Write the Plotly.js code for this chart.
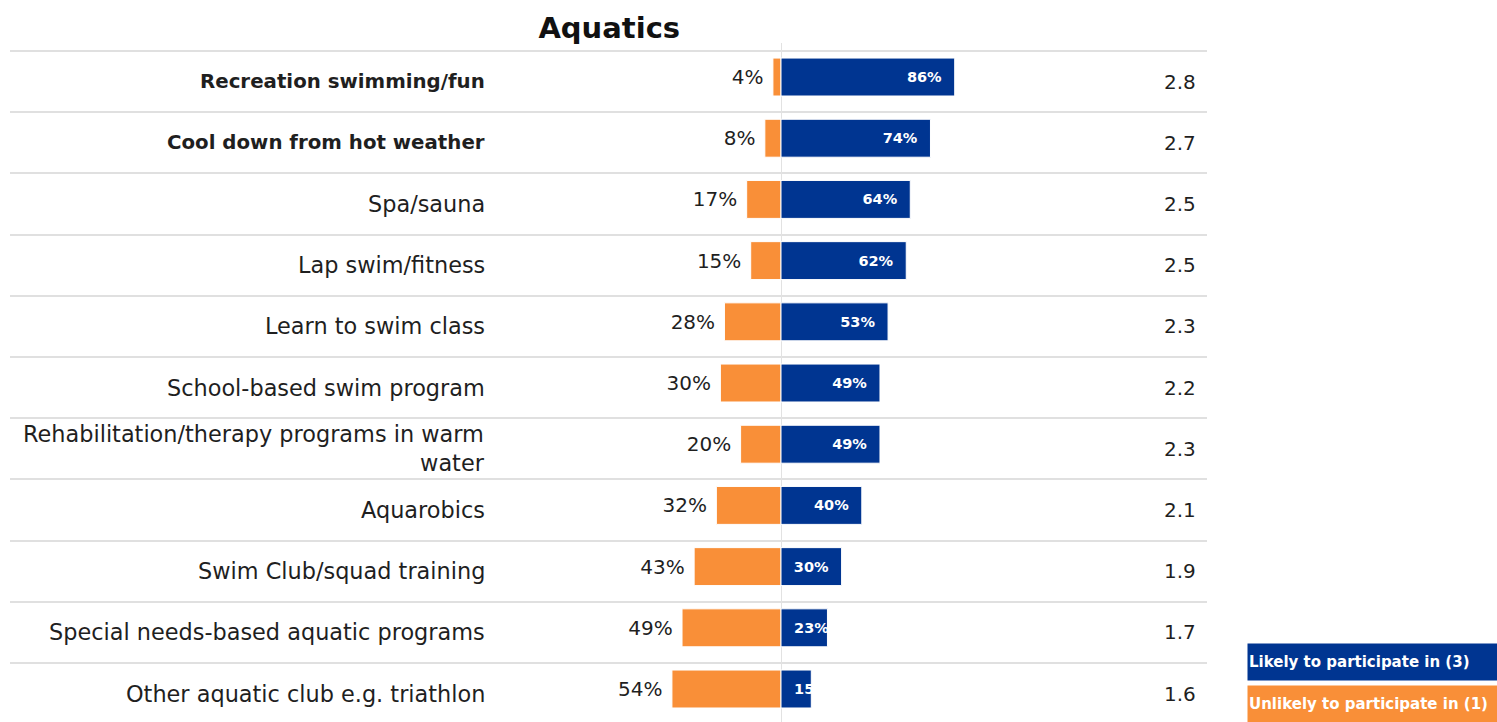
<!DOCTYPE html>
<html><head><meta charset="utf-8">
<script src="https://cdn.plot.ly/plotly-3.0.1.min.js"></script>
<style>html,body{margin:0;padding:0;background:#fff;overflow:hidden}</style>
</head><body><div id="chart" style="width:1497px;height:722px"></div>
<script>
const chartTitle = "Aquatics";
const categories = [
  "Recreation swimming/fun",
  "Cool down from hot weather",
  "Spa/sauna",
  "Lap swim/fitness",
  "Learn to swim class",
  "School-based swim program",
  "Rehabilitation/therapy programs in warm<br>water",
  "Aquarobics",
  "Swim Club/squad training",
  "Special needs-based aquatic programs",
  "Other aquatic club e.g. triathlon"
];
const boldRows = ["Recreation swimming/fun", "Cool down from hot weather"];
const unlikely = [4, 8, 17, 15, 28, 30, 20, 32, 43, 49, 54];
const likely = [86, 74, 64, 62, 53, 49, 49, 40, 30, 23, 15];
const means = ["2.8", "2.7", "2.5", "2.5", "2.3", "2.2", "2.3", "2.1", "1.9", "1.7", "1.6"];
const seriesNames = ["Likely to participate in (3)", "Unlikely to participate in (1)"];

const BLUE = "#003591";
const ORANGE = "#F98F38";
const FONT = "DejaVu Sans";
const NB = "\u00a0";
const SHORT_BAR = 25; // bars below this width get their label anchored at the start

const barCommon = {type: "bar", orientation: "h", y: categories, width: 0.62, offset: -0.385,
                   hoverinfo: "skip", constraintext: "none", textangle: 0};
const insideFont = {family: FONT, size: 14.5, color: "#ffffff", weight: "bold"};

const traces = [
  Object.assign({}, barCommon, {
    name: seriesNames[1], x: unlikely.map(v => -v),
    text: unlikely.map(v => v + "%" + NB),
    textposition: "outside", cliponaxis: false,
    outsidetextfont: {family: FONT, size: 20, color: "#1f1f1f"},
    marker: {color: ORANGE, line: {color: "#ffffff", width: 1}}
  }),
  Object.assign({}, barCommon, {
    name: seriesNames[0], x: likely,
    text: likely.map(v => v >= SHORT_BAR ? v + "%" + NB + NB : ""),
    textposition: "inside", insidetextanchor: "end",
    insidetextfont: insideFont,
    marker: {color: BLUE, line: {color: "#ffffff", width: 1}}
  }),
  Object.assign({}, barCommon, {
    name: seriesNames[0] + " labels", x: likely,
    text: likely.map(v => v < SHORT_BAR ? NB + NB + v + "%" : ""),
    textposition: "inside", insidetextanchor: "start",
    insidetextfont: insideFont,
    marker: {color: "rgba(0,0,0,0)", line: {width: 0}}
  })
];

const annotations = [];
categories.forEach((c, i) => {
  const isBold = boldRows.includes(c);
  annotations.push({
    xref: "paper", yref: "y", x: 0.3985, y: c, xanchor: "right", yanchor: "middle",
    align: "right", showarrow: false, text: isBold ? "<b>" + c + "</b>" : c,
    font: {family: FONT, size: isBold ? 19.8 : 22.4, color: "#1f1f1f"}
  });
  annotations.push({
    xref: "paper", yref: "y", x: 0.9925, y: c, xanchor: "right", yanchor: "middle",
    showarrow: false, text: means[i],
    font: {family: FONT, size: 20, color: "#1f1f1f"}
  });
});
[[seriesNames[0], BLUE, 0.0884], [seriesNames[1], ORANGE, 0.0265]].forEach(([t, col, yy]) => {
  annotations.push({
    xref: "paper", yref: "paper", x: 1.0334, y: yy, xanchor: "left", yanchor: "middle",
    align: "left", showarrow: false, text: "<b>" + t + "</b>", bgcolor: col,
    width: 300, height: 34, borderpad: 1,
    font: {family: FONT, size: 15, color: "#ffffff"}
  });
});

const layout = {
  width: 1497, height: 722,
  margin: {l: 10, r: 290, t: 43, b: 0, pad: 0},
  paper_bgcolor: "#ffffff", plot_bgcolor: "#ffffff",
  showlegend: false, barmode: "overlay",
  title: {text: "<b>" + chartTitle + "</b>", x: 0.407, xref: "container", xanchor: "center",
          y: 0.961, yref: "container", yanchor: "middle",
          font: {family: FONT, size: 29, color: "#111111"}},
  xaxis: {range: [-381.7, 210.9], showgrid: false, zeroline: true, zerolinecolor: "#e2e2e2",
          zerolinewidth: 1, showticklabels: false, ticks: "", fixedrange: true},
  yaxis: {type: "category", categoryorder: "array", categoryarray: categories,
          range: [10.464, -0.631], autorange: false, tickson: "boundaries",
          showgrid: true, gridcolor: "#e0e0e0", gridwidth: 2, showticklabels: false,
          ticks: "", zeroline: false, showline: false, fixedrange: true},
  annotations: annotations,
  font: {family: FONT}
};

Plotly.newPlot("chart", traces, layout, {displayModeBar: false, staticPlot: true});
</script></body></html>
